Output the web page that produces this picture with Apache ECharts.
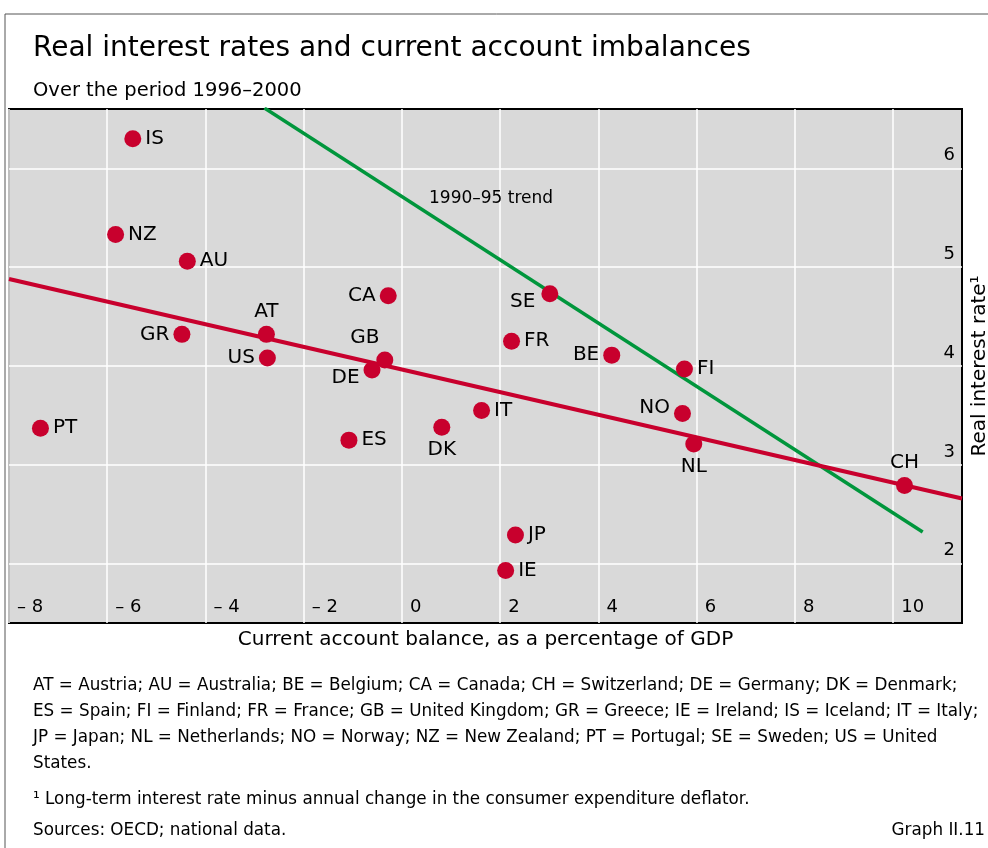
<!DOCTYPE html>
<html><head><meta charset="utf-8">
<script src="https://cdn.jsdelivr.net/npm/echarts@6/dist/echarts.min.js"></script>
<style>html,body{margin:0;padding:0;background:#fff}#c{width:988px;height:848px}</style>
</head><body><div id="c"></div>
<script>
// ---- data ----
const countries = ['IS','NZ','AU','CA','GR','AT','US','GB','DE','PT','ES','SE','FR','BE','FI','NO','IT','DK','NL','CH','JP','IE'];
const currentAccount = [-5.48,-5.83,-4.37,-0.28,-4.48,-2.76,-2.74,-0.35,-0.61,-7.36,-1.08,3.01,2.23,4.27,5.75,5.71,1.62,0.81,5.94,10.23,2.31,2.11];
const realRate = [6.30,5.33,5.06,4.71,4.32,4.32,4.08,4.06,3.96,3.37,3.25,4.73,4.25,4.11,3.97,3.52,3.55,3.38,3.21,2.79,2.29,1.93];
const trend9600X = [-8, 11.4];
const trend9600Y = [4.88, 2.66];
const trend9095X = [-2.8, 10.6];
const trend9095Y = [6.61, 2.32];
const xTicks = [-8,-6,-4,-2,0,2,4,6,8,10];
const yTicks = [2,3,4,5,6];
const trendLabel = '1990–95 trend';
const trendLabelAt = [0.55, 5.69];

// ---- styles ----
const FONT = 'DejaVu Sans';
const RED = '#c8002d', GREEN = '#00963c';
const labelPlacement = {CA:'left',GR:'left',AT:'top',US:'left',GB:'top',DE:'left',SE:'left',BE:'left',NO:'left',DK:'bottom',NL:'bottom',CH:'top'};
const labelOffset = {GB:[-20,0],DE:[0,8],SE:[-2,8],NO:[0,-6],US:[0,0]};

const pts = countries.map((c,i)=>({
  name:c, value:[currentAccount[i], realRate[i]],
  label:{position: labelPlacement[c]||'right', offset: labelOffset[c]||[0,0]}
}));

const FOOT = '16.8px ' + FONT;
const chart = echarts.init(document.getElementById('c'), null, {renderer:'canvas'});
chart.setOption({
  animation:false,
  textStyle:{fontFamily:FONT},
  title:[
    {text:'Real interest rates and current account imbalances', left:28, top:30,
     textStyle:{fontFamily:FONT,fontSize:28,fontWeight:'normal',color:'#000'}},
    {text:'Over the period 1996–2000', left:28, top:76,
     textStyle:{fontFamily:FONT,fontSize:19.5,fontWeight:'normal',color:'#000'}}
  ],
  grid:{left:9, top:109, right:26, bottom:225, show:true, backgroundColor:'#d9d9d9', borderColor:'#000', borderWidth:2, containLabel:false, outerBoundsMode:'none'},
  xAxis:{type:'value', min:-8, max:11.4,
    name:'Current account balance, as a percentage of GDP', nameLocation:'middle', nameGap:7,
    nameTextStyle:{fontFamily:FONT,fontSize:20,color:'#000', verticalAlign:'top'},
    axisLine:{show:false}, axisTick:{show:false, customValues:xTicks},
    splitLine:{show:true, lineStyle:{color:'#fff', width:1.5}},
    axisLabel:{inside:true, customValues:xTicks, margin:7, align:'left', padding:[0,0,0,8],
      fontFamily:FONT, fontSize:18, color:'#000',
      formatter:v=> v<0 ? '– '+Math.abs(v) : String(v)}
  },
  yAxis:{type:'value', position:'right', min:1.4, max:6.6,
    name:'Real interest rate¹', nameLocation:'middle', nameGap:8, nameRotate:90,
    nameTextStyle:{fontFamily:FONT,fontSize:20,color:'#000', verticalAlign:'top'},
    axisLine:{show:false}, axisTick:{show:false, customValues:yTicks},
    splitLine:{show:true, lineStyle:{color:'#fff', width:1.5}},
    axisLabel:{inside:true, customValues:yTicks, margin:7, verticalAlign:'bottom', padding:[0,0,4,0],
      fontFamily:FONT, fontSize:18, color:'#000'}
  },
  series:[
    {type:'line', data:trend9095X.map((x,i)=>[x,trend9095Y[i]]), symbol:'none', clip:true,
     lineStyle:{color:GREEN,width:3.5}, z:2,
     markPoint:{symbol:'circle', symbolSize:0, data:[{coord:trendLabelAt}],
       label:{show:true, position:'right', distance:0, formatter:trendLabel, fontFamily:FONT, fontSize:17, color:'#000'}}},
    {type:'line', data:trend9600X.map((x,i)=>[x,trend9600Y[i]]), symbol:'none', clip:true,
     lineStyle:{color:RED,width:4}, z:3},
    {type:'scatter', data:pts, symbolSize:17, itemStyle:{color:RED, opacity:1}, z:4,
     label:{show:true, formatter:'{b}', fontFamily:FONT, fontSize:20, color:'#000', distance:4}}
  ],
  graphic:[
    {type:'line', shape:{x1:5,y1:14,x2:988,y2:14}, style:{stroke:'#555',lineWidth:1}},
    {type:'line', shape:{x1:5,y1:14,x2:5,y2:848}, style:{stroke:'#555',lineWidth:1}},
    {type:'text', left:33, top:677, style:{text:'AT = Austria; AU = Australia; BE = Belgium; CA = Canada; CH = Switzerland; DE = Germany; DK = Denmark;', font:FOOT, fill:'#000'}},
    {type:'text', left:33, top:703, style:{text:'ES = Spain; FI = Finland; FR = France; GB = United Kingdom; GR = Greece; IE = Ireland; IS = Iceland; IT = Italy;', font:FOOT, fill:'#000'}},
    {type:'text', left:33, top:729, style:{text:'JP = Japan; NL = Netherlands; NO = Norway; NZ = New Zealand; PT = Portugal; SE = Sweden; US = United', font:FOOT, fill:'#000'}},
    {type:'text', left:33, top:755, style:{text:'States.', font:FOOT, fill:'#000'}},
    {type:'text', left:33, top:791, style:{text:'¹ Long-term interest rate minus annual change in the consumer expenditure deflator.', font:FOOT, fill:'#000'}},
    {type:'text', left:33, top:822, style:{text:'Sources: OECD; national data.', font:FOOT, fill:'#000'}},
    {type:'text', right:3, top:822, style:{text:'Graph II.11', font:FOOT, fill:'#000'}}
  ]
});
</script></body></html>
